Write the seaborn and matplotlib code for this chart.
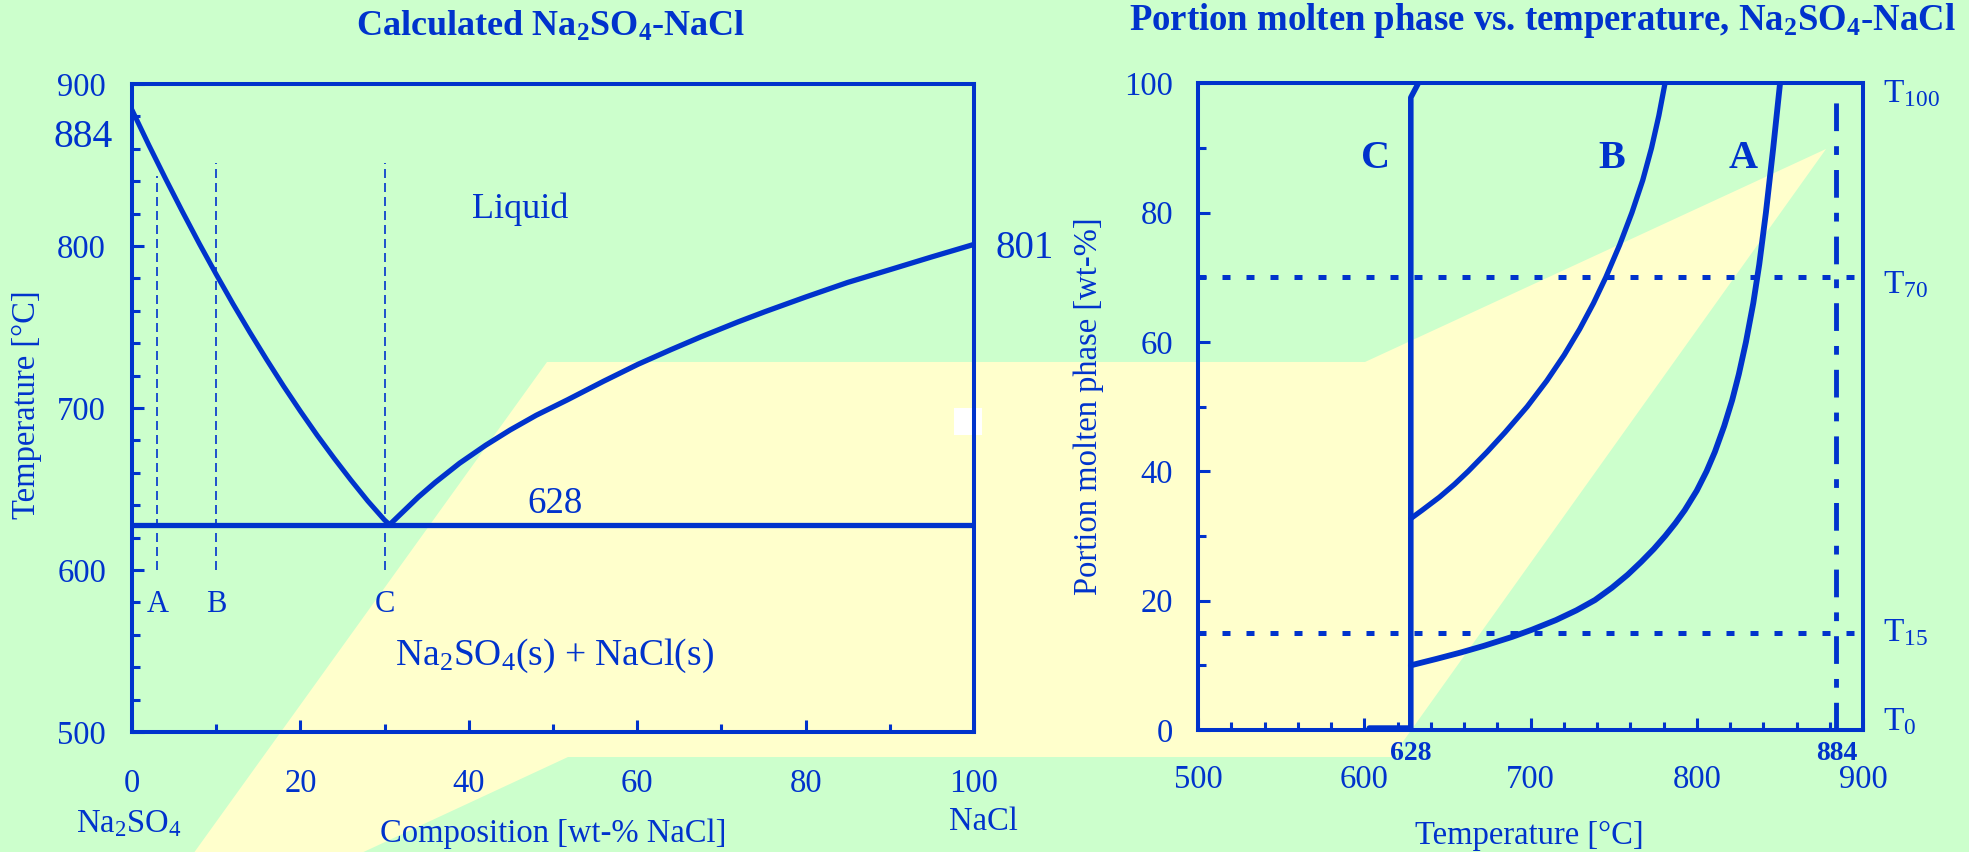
import numpy as np
import matplotlib.pyplot as plt
import seaborn as sns
from matplotlib.patches import Polygon, Rectangle
from matplotlib.ticker import MultipleLocator

sns.set_style('white')
plt.rcParams['font.family'] = ['Liberation Serif', 'DejaVu Serif']
plt.rcParams['mathtext.fontset'] = 'custom'
plt.rcParams['mathtext.rm'] = 'Liberation Serif'
plt.rcParams['mathtext.it'] = 'Liberation Serif:italic'
plt.rcParams['mathtext.bf'] = 'Liberation Serif:bold'

BLUE = '#0033CC'
GREEN = '#CCFFCC'
YELLOW = '#FFFFCC'

# ---- data: calculated phase diagram Na2SO4-NaCl
liq_left_x = [0, 2, 4, 6, 8, 10, 12, 14, 16, 18, 20, 22, 24, 26, 28, 30, 30.6]
liq_left_t = [884, 862.3, 841.4, 821.1, 801.4, 782.5, 764.2, 746.7, 729.8, 713.5,
              698.0, 683.1, 669.0, 655.5, 642.6, 630.8, 628]
liq_right_x = [30.6, 32, 34, 36, 38.9, 42, 44.9, 48, 51.7, 56, 60.1, 64, 67.6, 72,
               75.2, 80, 85, 90.4, 95, 100]
liq_right_t = [628, 635, 645, 654, 665.9, 677, 686.4, 695.5, 705, 716.5, 727, 736,
               744, 753.2, 759.5, 768.5, 777.5, 786, 793.3, 801]
eutectic_t = 628
sample_names = ['A', 'B', 'C']
sample_x = [3, 10, 30]
sample_top = [843, 851, 851]

# ---- data: portion molten phase vs temperature
curve_a_p = [10, 11, 12, 13, 14.4, 15.5, 17, 18.5, 20.1, 22, 24, 26, 28, 30, 32, 34, 37,
             40, 43, 47, 51, 55, 60, 66, 72, 80, 90, 100]
curve_a_t = [628, 643.5, 658.3, 671.8, 689.0, 700.8, 715.3, 727.6, 738.8, 749.0, 758.4,
             766.6, 774.2, 781.0, 787.2, 792.8, 800.0, 805.9, 810.9, 816.5, 821.3, 825.3,
             829.6, 834.0, 837.6, 841.6, 846.0, 850.1]
curve_b_p = [32.7, 34, 36, 38, 40, 43, 46, 50, 54, 58, 62, 66, 70, 75, 80, 85, 90, 95, 100]
curve_b_t = [628, 634.9, 645.2, 654.3, 662.5, 673.9, 684.6, 698.0, 709.8, 720.3, 729.6,
             737.9, 745.3, 753.6, 761.0, 767.5, 772.8, 777.2, 780.9]
curve_c_t = [603, 628, 628, 632.5]
curve_c_p = [0.3, 0.3, 97.8, 100]
label_t = [607, 749, 828]          # C, B, A
label_names = ['C', 'B', 'A']
levels = [0, 15, 70, 100]
level_names = ['0', '15', '70', '100']
level_shift = [0, -1.2, -2.5, -2.9]
t_melt = 884

W, H = 1969, 852
fig = plt.figure(figsize=(W / 100, H / 100), dpi=100)
fig.patch.set_facecolor(GREEN)


def px(x, y):
    return x / W, 1 - y / H


# decorative slide background
band = [(194.5, 852), (547, 362), (1365, 362), (1826, 149), (1392, 757), (568, 757), (363.5, 852)]
fig.patches.append(Polygon([px(*p) for p in band], closed=True, transform=fig.transFigure,
                           facecolor=YELLOW, edgecolor='none', zorder=-2))
fig.patches.append(Rectangle(px(954, 435), 28 / W, 27 / H, transform=fig.transFigure,
                             facecolor='white', edgecolor='none', zorder=-1))

ax1 = fig.add_axes([132 / W, 1 - 732 / H, 842 / W, 648 / H])
ax2 = fig.add_axes([1198 / W, 1 - 730 / H, 665 / W, 646.7 / H])

for ax in (ax1, ax2):
    ax.set_facecolor('none')
    for s in ax.spines.values():
        s.set_color(BLUE)
        s.set_linewidth(2.9)
        s.set_visible(True)
    ax.tick_params(which='both', direction='in', color=BLUE, labelcolor=BLUE, width=2.2,
                   bottom=True, left=True, top=False, right=False, labelsize=23.5)
    ax.tick_params(which='major', length=8.6)
    ax.tick_params(which='minor', length=5.8)

# ---- left: phase diagram
ax = ax1
sns.lineplot(x=liq_left_x, y=liq_left_t, ax=ax, color=BLUE, lw=3.6, sort=False, estimator=None)
sns.lineplot(x=liq_right_x, y=liq_right_t, ax=ax, color=BLUE, lw=3.8, sort=False, estimator=None)
ax.axhline(eutectic_t, color=BLUE, lw=3.8)
for name, x, top in zip(sample_names, sample_x, sample_top):
    ax.plot([x, x], [600, top], color=BLUE, lw=1.2, ls=(0, (5.4, 3)))
    ax.text(x, 574.3, name, ha='center', va='baseline', color=BLUE, fontsize=22)
ax.set_xlim(0, 100)
ax.set_ylim(500, 900)
ax.xaxis.set_major_locator(MultipleLocator(20))
ax.xaxis.set_minor_locator(MultipleLocator(10))
ax.yaxis.set_major_locator(MultipleLocator(100))
ax.yaxis.set_minor_locator(MultipleLocator(20))
ax.tick_params(axis='x', which='major', pad=26)
ax.tick_params(axis='y', which='major', pad=18.7)
ax.text(46.1, 817.3, 'Liquid', ha='center', va='baseline', color=BLUE, fontsize=26)
ax.text(50.2, 635.2, str(eutectic_t), ha='center', va='baseline', color=BLUE, fontsize=26.5)
ax.text(50.2, 541.4, r'Na$_\mathrm{2}$SO$_\mathrm{4}$(s) + NaCl(s)', ha='center', va='baseline',
        color=BLUE, fontsize=27)
ax.text(-2.3, 867, str(liq_left_t[0]), ha='right', va='center', color=BLUE, fontsize=28.5, clip_on=False)
ax.text(102.6, 792.6, str(liq_right_t[-1]), ha='left', va='baseline', color=BLUE, fontsize=28, clip_on=False)

fig.text(*px(551, 36), r'Calculated Na$_\mathbf{2}$SO$_\mathbf{4}$-NaCl', ha='center', va='baseline',
         color=BLUE, fontsize=26, fontweight='bold')
fig.text(*px(27, 405), 'Temperature [°C]', rotation=90, ha='center', va='center', color=BLUE, fontsize=23.5)
fig.text(*px(129, 824), r'Na$_\mathrm{2}$SO$_\mathrm{4}$', ha='center', va='center', color=BLUE, fontsize=23.5)
fig.text(*px(553, 834), 'Composition [wt-% NaCl]', ha='center', va='center', color=BLUE, fontsize=23.5)
fig.text(*px(983, 822), 'NaCl', ha='center', va='center', color=BLUE, fontsize=23.5)

# ---- right: portion molten phase
ax = ax2
for lv in levels[1:3]:
    ax.axhline(lv, color=BLUE, lw=3.6, ls=(0, (1.6, 3.2)))
ax.plot([t_melt, t_melt], [0, 97.9], color=BLUE, lw=3.5, ls=(0, (5.7, 3.1, 1.8, 3.1)))
sns.lineplot(x=curve_c_t, y=curve_c_p, ax=ax, color=BLUE, lw=4, sort=False, estimator=None)
sns.lineplot(x=curve_b_t, y=curve_b_p, ax=ax, color=BLUE, lw=3.8, sort=False, estimator=None)
sns.lineplot(x=curve_a_t, y=curve_a_p, ax=ax, color=BLUE, lw=4.2, sort=False, estimator=None)
ax.set_xlim(500, 900)
ax.set_ylim(0, 100)
ax.xaxis.set_major_locator(MultipleLocator(100))
ax.xaxis.set_minor_locator(MultipleLocator(20))
ax.yaxis.set_major_locator(MultipleLocator(20))
ax.yaxis.set_minor_locator(MultipleLocator(10))
ax.tick_params(axis='x', which='major', pad=25)
ax.tick_params(axis='y', which='major', pad=18)
for name, t in zip(label_names, label_t):
    ax.text(t, 86.9, name, ha='center', va='baseline', color=BLUE, fontsize=29, fontweight='bold')
for lv, nm, sh in zip(levels, level_names, level_shift):
    ax.text(912, lv + sh, r'T$_{\mathrm{%s}}$' % nm, ha='left', va='baseline', color=BLUE,
            fontsize=24, clip_on=False)
for t in (eutectic_t, t_melt):
    ax.text(t, -0.0356, str(t), transform=ax.get_xaxis_transform(), ha='center', va='center',
            color=BLUE, fontsize=20, fontweight='bold')

fig.text(*px(1542.5, 30), r'Portion molten phase vs. temperature, Na$_\mathbf{2}$SO$_\mathbf{4}$-NaCl',
         ha='center', va='baseline', color=BLUE, fontsize=26.5, fontweight='bold')
fig.text(*px(1089, 406.5), 'Portion molten phase [wt-%]', rotation=90, ha='center', va='center',
         color=BLUE, fontsize=23.5)
fig.text(*px(1529, 836), 'Temperature [°C]', ha='center', va='center', color=BLUE, fontsize=23.5)

for ax in (ax1, ax2):
    ax.set_xlabel('')
    ax.set_ylabel('')

fig.savefig('out.png', dpi=100, facecolor=fig.get_facecolor())
